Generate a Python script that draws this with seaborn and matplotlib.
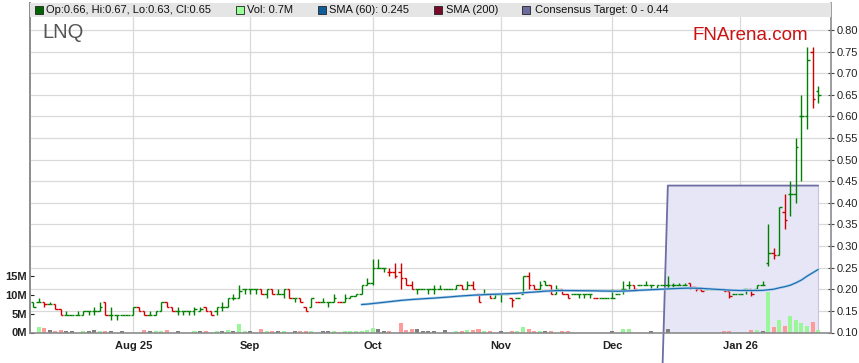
import numpy as np
import pandas as pd
import matplotlib
matplotlib.use('Agg')
import matplotlib.pyplot as plt
from matplotlib.patches import Rectangle, Polygon
import seaborn as sns

# Daily OHLC for LNQ, one entry per weekday starting 2025-07-08
ticker = 'LNQ'
start_date = '2025-07-08'

opens = [.170, .170, .170, .165, .165, .155, .140, .140, .140, .140, .150, .150, .150, .170, .140, .140, .140, .140,
         .140, .160, .150, .140, .140, .150, .170, .160, .150, .150, .150, .150, .150, .160, .150, .150, .160, .160,
         .180, .180, .200, .200, .200, .200, .190, .200, .190, .190, .200, .180, .180, .160, .160, .170, .170, .170,
         .170, .170, .170, .180, .185, .190, .210, .215, .250, .250, .240, .240, .240, .225, .210, .200, .200, .200,
         .200, .200, .200, .200, .200, .210, .200, .210, .190, .190, .190, .180, .190, .190, .180, .180, .190, .230,
         .210, .200, .220, .210, .190, .200, .190, .190, .190, .190, .190, .180, .180, .180, .180, .190, .200, .210,
         .210, .210, .210, .210, .200, .210, .210, .210, .210, .210, .215, .205, .200, .200, .200, .200, .200, .195,
         .190, .190, .200, .200, .200, .210, .260, .285, .280, .380, .420, .420, .600, .600, .750, .660]
highs = [.170, .180, .170, .170, .165, .155, .150, .140, .150, .150, .150, .160, .170, .170, .160, .140, .140, .140,
         .160, .160, .150, .150, .150, .170, .170, .160, .160, .150, .150, .160, .160, .160, .150, .160, .170, .180,
         .190, .210, .200, .200, .200, .200, .200, .200, .200, .200, .200, .180, .180, .160, .180, .170, .180, .170,
         .190, .170, .190, .185, .190, .210, .225, .270, .270, .250, .250, .260, .260, .225, .220, .200, .200, .200,
         .210, .210, .200, .200, .210, .210, .220, .220, .190, .200, .190, .190, .190, .190, .180, .180, .230, .240,
         .210, .220, .220, .210, .210, .200, .190, .190, .190, .190, .190, .180, .180, .180, .200, .190, .220, .220,
         .210, .210, .220, .210, .210, .210, .230, .215, .215, .215, .215, .205, .200, .200, .200, .200, .200, .195,
         .190, .190, .200, .200, .210, .220, .350, .295, .390, .420, .450, .550, .650, .760, .760, .670]
lows = [.160, .170, .160, .165, .155, .140, .140, .140, .140, .140, .140, .140, .150, .140, .130, .130, .140, .140,
        .140, .150, .140, .140, .140, .150, .160, .150, .140, .140, .140, .140, .150, .150, .140, .140, .150, .160,
        .175, .180, .190, .190, .190, .190, .180, .190, .190, .180, .180, .170, .170, .150, .160, .170, .170, .160,
        .170, .170, .170, .180, .185, .190, .210, .210, .250, .240, .230, .225, .200, .210, .200, .190, .200, .190,
        .190, .200, .200, .200, .200, .200, .200, .200, .170, .190, .180, .180, .170, .190, .160, .180, .190, .200,
        .200, .200, .210, .190, .190, .190, .180, .190, .180, .180, .180, .180, .180, .180, .180, .190, .190, .200,
        .200, .210, .210, .200, .200, .210, .200, .205, .210, .210, .200, .195, .195, .200, .200, .200, .195, .180,
        .190, .190, .190, .185, .200, .210, .255, .270, .280, .340, .370, .400, .450, .570, .620, .630]
closes = [.160, .170, .165, .165, .155, .140, .140, .140, .140, .150, .150, .150, .160, .140, .140, .140, .140, .140,
          .160, .150, .140, .140, .150, .170, .160, .150, .150, .150, .150, .155, .155, .150, .140, .160, .160, .180,
          .180, .195, .200, .200, .200, .190, .200, .190, .190, .200, .180, .180, .170, .150, .180, .170, .170, .170,
          .180, .170, .180, .185, .190, .210, .215, .250, .250, .250, .240, .230, .225, .210, .200, .200, .200, .200,
          .200, .200, .200, .200, .210, .200, .210, .200, .170, .190, .180, .190, .190, .190, .175, .180, .230, .210,
          .200, .210, .210, .190, .200, .190, .180, .190, .190, .190, .190, .180, .180, .180, .180, .190, .200, .210,
          .200, .210, .210, .210, .210, .210, .210, .210, .210, .210, .205, .200, .195, .200, .200, .200, .195, .185,
          .190, .190, .200, .190, .210, .210, .285, .280, .390, .360, .420, .530, .600, .730, .640, .650]
volumes_m = [0, 1.5, 1.2, 0.7, 0.3, 0.7, 0.3, 0.3, 0, 0.3, 0.5, 0.7, 0.3, 0.5, 0.3, 0, 0.3, 0,
             0, 0, 0.7, 0.5, 0.3, 0.5, 0.7, 0, 0.5, 0, 0, 0.3, 0.3, 0.3, 0, 0.3, 0.3, 0.7,
             0.3, 2.3, 0.5, 0.3, 0, 0.8, 0.3, 0.3, 0.5, 0.3, 0, 0.3, 0.3, 0.3, 0.5, 0, 0.3, 0.3,
             0.3, 0, 0.3, 0.4, 0.4, 0.4, 0.7, 1.2, 1.0, 0.4, 0.4, 0, 2.6, 0.7, 1.0, 1.0, 0.4, 0.4,
             0.4, 0, 0.7, 0, 0.4, 0.4, 0.7, 0.7, 1.0, 0.4, 0.4, 0, 0.4, 0, 0.5, 0.3, 1.5, 1.0,
             0.3, 0.5, 0.3, 0.3, 0, 0.3, 0.3, 0, 0, 0, 0, 0, 0, 0, 0.3, 0, 0.8, 0.8,
             0, 0, 0, 0.5, 0, 0, 0.8, 0, 0, 0, 0, 0, 0, 0, 0, 0, 0.3, 0.3,
             0, 0, 0, 0.6, 0.6, 0.3, 10.6, 1.4, 3.2, 1.8, 4.3, 3.2, 2.6, 1.8, 2.9, 0.7]

month_labels = ['Aug 25', 'Sep', 'Oct', 'Nov', 'Dec', 'Jan 26']
price_ticks = [0.10, 0.15, 0.20, 0.25, 0.30, 0.35, 0.40, 0.45, 0.50, 0.55, 0.60, 0.65, 0.70, 0.75, 0.80]
volume_ticks = [0, 5, 10, 15]

target_low, target_high = 0.0, 0.44
target_start = '2025-12-15'

legend_items = ['Op:0.66, Hi:0.67, Lo:0.63, Cl:0.65', 'Vol: 0.7M', 'SMA (60): 0.245',
                'SMA (200)', 'Consensus Target: 0 - 0.44']

# frame
dates = pd.bdate_range(start_date, periods=len(closes))
df = pd.DataFrame({'date': dates, 'open': opens, 'high': highs, 'low': lows,
                   'close': closes, 'vol': volumes_m})
df['idx'] = np.arange(len(df))
df['sma60'] = df['close'].rolling(60).mean()
prev = df['close'].shift(1).fillna(df['close'])
bar_col = np.where(df['close'] < prev, '#d00000', '#008000')
vol_col = np.where(df['close'] > prev, '#99f799',
                   np.where(df['close'] < prev, '#ff9a9a', '#808080'))

month_pos = df.groupby(df['date'].dt.to_period('M'))['idx'].first().values[1:]

sns.set_style('white')
plt.rcParams['font.family'] = ['Liberation Sans', 'DejaVu Sans']

W, H = 859, 363
fig = plt.figure(figsize=(W / 100, H / 100), dpi=100)
ax = fig.add_axes([30 / W, 30.5 / H, 801 / W, 329.5 / H])
ax.set_xlim(-0.54, 143.3)
ax.set_ylim(0.10, 0.8625)

# grid
ax.set_axisbelow(True)
ax.set_yticks(price_ticks)
ax.set_yticklabels([f'{t:.2f}' for t in price_ticks])
ax.set_xticks(month_pos)
ax.set_xticklabels(month_labels, fontweight='bold')
ax.grid(True, color='#d9d9d9', lw=0.9)

# consensus target box
t_idx = df.index[df['date'] == pd.Timestamp(target_start)][0]
t_end = df['idx'].iloc[-1]
ax.add_patch(Polygon([(t_idx - 1, target_low), (t_idx, target_high), (t_end, target_high), (t_end, target_low)],
                     closed=True, facecolor='#e6e6f7', edgecolor='none', zorder=1))
ax.plot([t_end, t_end], [target_low, target_high], color='#c4c4dc', lw=0.8, zorder=1.2)
ax.plot([t_idx - 1, t_idx, t_end], [target_low, target_high, target_high], color='#6e6ea2',
        lw=1.3, zorder=1.3, clip_on=False)

# volume bars, sharing the price axes
k = 0.1314 / 15
ax.bar(df['idx'], df['vol'] * k, bottom=0.10, width=0.72, color=vol_col, lw=0, zorder=2)

# ohlc
ax.vlines(df['idx'], df['low'], df['high'], colors=bar_col, lw=1.0, zorder=3)
ax.hlines(df['open'], df['idx'] - 0.45, df['idx'], colors=bar_col, lw=1.0, zorder=3)
ax.hlines(df['close'], df['idx'], df['idx'] + 0.45, colors=bar_col, lw=1.0, zorder=3)

# SMA 60
ax.plot(df['idx'], df['sma60'], color='#b4d3ee', lw=1.9, zorder=4, solid_capstyle='round')
sns.lineplot(data=df, x='idx', y='sma60', ax=ax, color='#1c6cb0', lw=0.9, zorder=5)
ax.set_xlabel('')
ax.set_ylabel('')

# axes styling
ax.yaxis.tick_right()
ax.tick_params(axis='y', which='both', left=False, right=True, direction='inout', length=4,
               color='#444444', labelsize=8, labelcolor='#222222', pad=2)
ax.tick_params(axis='x', direction='out', length=3, color='#444444', labelsize=8,
               labelcolor='#222222', pad=3)
for side in ['left', 'right', 'bottom']:
    ax.spines[side].set_color('#8c8c8c')
    ax.spines[side].set_linewidth(1.2)
ax.spines['top'].set_visible(False)

sec = ax.secondary_yaxis('left', functions=(lambda p: (p - 0.10) / k, lambda v: v * k + 0.10))
sec.set_yticks(volume_ticks)
sec.set_yticklabels([f'{v}M' for v in volume_ticks], fontweight='bold')
sec.tick_params(direction='in', length=3, color='#222222', labelsize=8, labelcolor='#222222', pad=2)
sec.spines['left'].set_color('#8c8c8c')
sec.spines['left'].set_linewidth(1.2)

# legend band on top
band = 14 / 329.5
ax.add_patch(Rectangle((0, 1 - band), 1, band, transform=ax.transAxes, facecolor='#e5e5e5',
                       edgecolor='none', zorder=10, clip_on=False))

sq_x = [35, 236, 318, 434, 522]
sq_c = ['#006400', '#99ff99', '#0f5e9c', '#7a0a2a', '#6b6b9e']
txt_x = [46.5, 247, 329, 446, 535]
for sx, c, tx, lab in zip(sq_x, sq_c, txt_x, legend_items):
    fig.add_artist(Rectangle((sx / W, 1 - 14 / H), 7.5 / W, 7.5 / H, transform=fig.transFigure,
                             facecolor=c, edgecolor='#222222', lw=0.6, zorder=20))
    fig.text(tx / W, 1 - 10.3 / H, lab, fontsize=8, color='#111111', va='center', ha='left', zorder=21)

fig.text(42 / W, 1 - 33 / H, ticker, fontsize=14.5, color='#555555', va='center', ha='left')
fig.text(808 / W, 1 - 35 / H, 'FNArena.com', fontsize=13.5, color='#cc1111', va='center', ha='right')

fig.savefig('out.png', dpi=100)
